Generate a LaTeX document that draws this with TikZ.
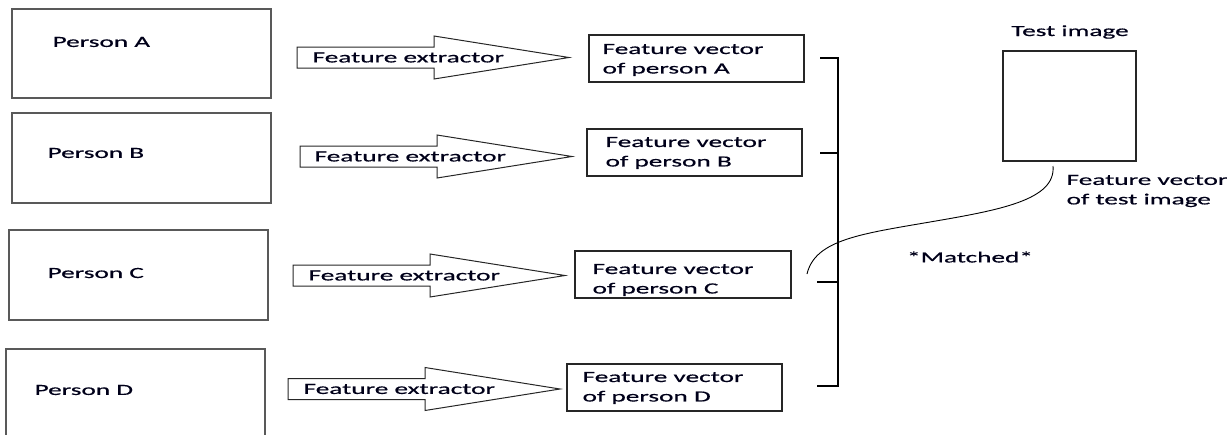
\documentclass[tikz,border=0pt]{standalone}
\usepackage{fontspec}
\setmainfont{Carlito}[FakeStretch=1.76,FakeBold=0.6]
\begin{document}
\begin{tikzpicture}[x=1pt,y=-1pt,line width=1.2pt,
  every node/.style={font=\fontsize{15.5}{19.5}\selectfont,text=black!90!blue},
  lbl/.style={inner sep=0pt,anchor=west},
  fv/.style={inner sep=0pt,anchor=west,align=left},
  pbox/.style={draw=gray!70!black,line width=1.3pt},
  vbox/.style={draw=black!85,line width=1.2pt},
  barrowline/.style={draw=black!85,line width=1pt}]
\useasboundingbox (0,0) rectangle (1232,434);
% person boxes
\draw[pbox] (12,9) rectangle (271,98);
\draw[pbox] (12,113) rectangle (271,203);
\draw[pbox] (9,230) rectangle (268,320);
\draw[pbox] (6,349) rectangle (265,440);
\node[lbl] (pa) at (52,42) {Person A};
\node[lbl] (pb) at (47,153) {Person B};
\node[lbl] (pc) at (47,273) {Person C};
\node[lbl] (pd) at (34,390) {Person D};
% block arrows
\newcommand\blockarrow[2]{%
  \draw[barrowline] (#1,#2-10.5) -- (#1+137,#2-10.5) -- (#1+137,#2-21.5) -- (#1+272,#2)
    -- (#1+137,#2+21.5) -- (#1+137,#2+10.5) -- (#1,#2+10.5) -- cycle;}
\blockarrow{297}{57.5}
\blockarrow{300}{156.5}
\blockarrow{293}{275.5}
\blockarrow{288}{389}
\node[lbl] (ea) at (312,57.5) {Feature extractor};
\node[lbl] (eb) at (314,156.5) {Feature extractor};
\node[lbl] (ec) at (308,275.5) {Feature extractor};
\node[lbl] (ed) at (303,389) {Feature extractor};
% feature vector boxes
\draw[vbox] (589,35) rectangle (804,82);
\draw[vbox] (587,129) rectangle (802,176);
\draw[vbox] (575,251) rectangle (791,298);
\draw[vbox] (567,364) rectangle (782,411);
\node[fv] (fa) at (602,60) {Feature vector\\of person A};
\node[fv] (fb) at (605,153) {Feature vector\\of person B};
\node[fv] (fc) at (592,280) {Feature vector\\of person C};
\node[fv] (fd) at (582,388) {Feature vector\\of person D};
% bracket
\coordinate (ta) at (820,58);
\coordinate (tb) at (820,153);
\coordinate (tc) at (817,282);
\coordinate (td) at (817,386);
\coordinate (btop) at (838,58);
\coordinate (bb) at (838,153);
\coordinate (bc) at (838,282);
\coordinate (bbot) at (838,386);
\draw (ta) -- (btop) -- (bbot) -- (td);
\draw (tb) -- (bb);
\draw (tc) -- (bc);
% test image
\draw[vbox] (1003,51) rectangle (1136,161);
\node[inner sep=0pt] (ti) at (1070,32) {Test image};
\node[fv] (fti) at (1066,191) {Feature vector\\of test image};
\node[inner sep=0pt] (m) at (970,257) {*Matched*};
\coordinate (cs) at (1053,166);
\coordinate (ce) at (807,274);
\draw[line width=0.9pt] (cs) .. controls (1056,200) and (1000,210) .. (930,222)
  .. controls (860,234) and (815,240) .. (ce);
\end{tikzpicture}
\end{document}
